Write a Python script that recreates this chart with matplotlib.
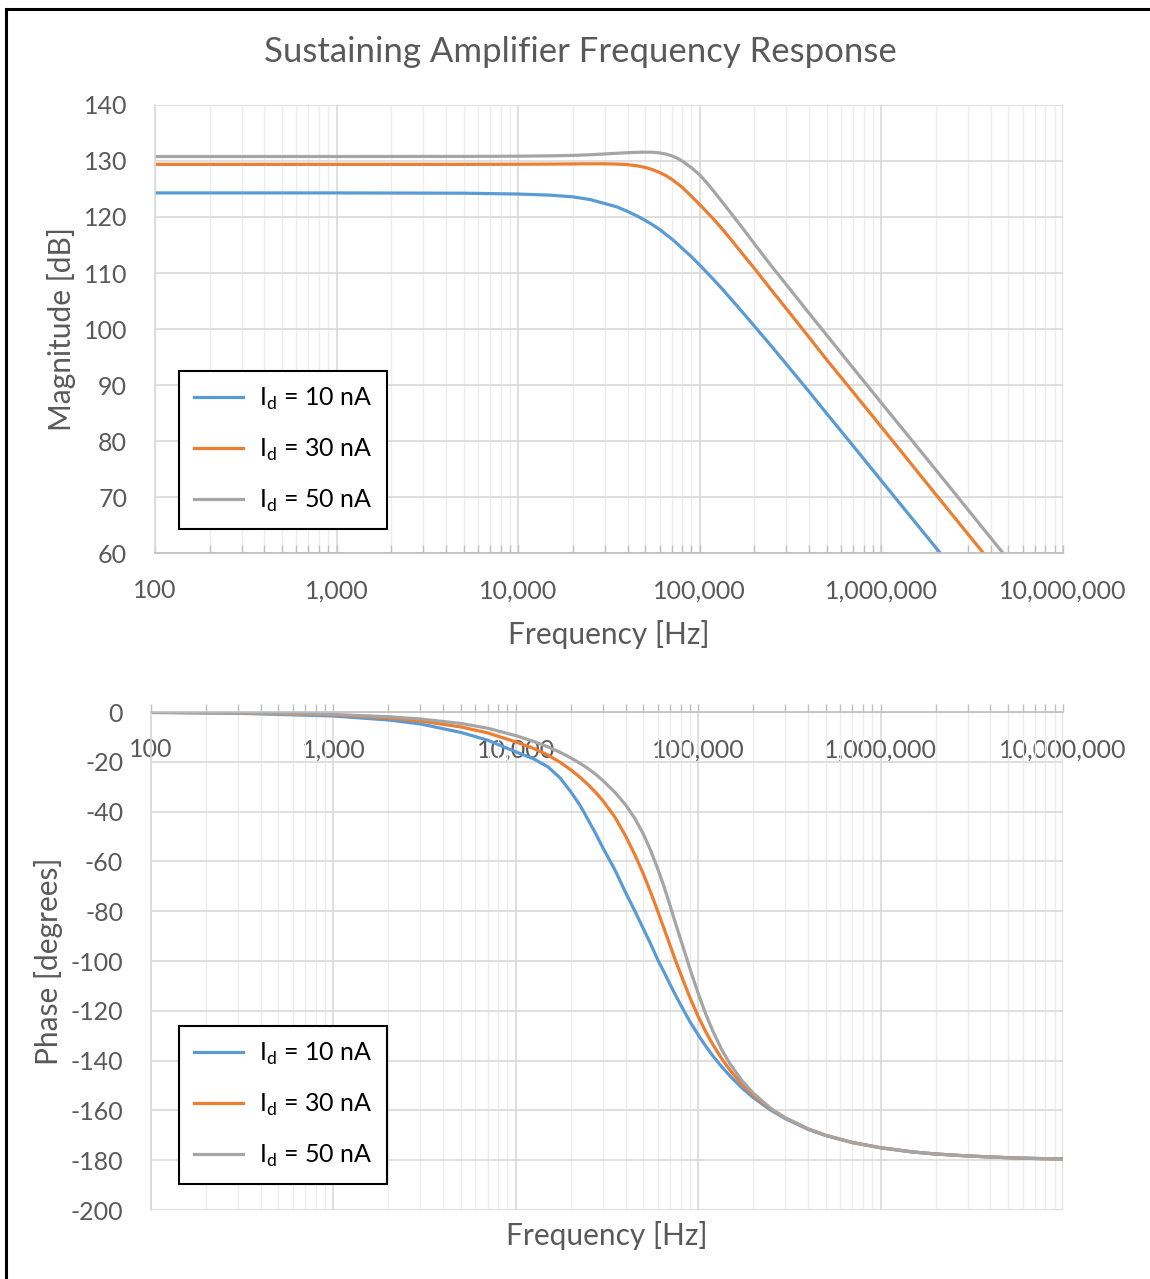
import numpy as np
import matplotlib
matplotlib.use("Agg")
import matplotlib.pyplot as plt
from matplotlib.ticker import FixedLocator, LogLocator, NullFormatter
from matplotlib.lines import Line2D

plt.rcParams["font.family"] = ["Lato", "DejaVu Sans"]
plt.rcParams["axes.unicode_minus"] = False

# ---- data ----
series_labels = [r"I$_\mathregular{d}$ = 10 nA", r"I$_\mathregular{d}$ = 30 nA", r"I$_\mathregular{d}$ = 50 nA"]

mag_freq = [100, 1000, 5000, 10000, 15000, 20000, 25000, 30000, 35000, 40000, 45000, 50000,
            55000, 60000, 65000, 70000, 75000, 80000, 90000, 100000, 110000, 120000, 135000,
            150000, 175000, 200000, 250000, 300000, 400000, 500000, 700000, 1000000,
            2000000, 5000000, 10000000]
mag_10nA = [124.3, 124.3, 124.25, 124.1, 123.9, 123.6, 123.1, 122.4, 121.8, 121.0, 120.2, 119.4,
            118.6, 117.8, 116.9, 116.1, 115.25, 114.4, 112.9, 111.4, 110.0, 108.7, 106.9,
            105.2, 102.7, 100.5, 96.8, 93.7, 88.8, 84.9, 79.1, 72.9,
            60.9, 45.0, 33.0]
mag_30nA = [129.4, 129.4, 129.4, 129.42, 129.45, 129.48, 129.5, 129.5, 129.45, 129.35, 129.15, 128.85,
            128.45, 127.95, 127.4, 126.75, 126.0, 125.3, 123.7, 122.2, 120.8, 119.5, 117.6,
            115.8, 113.1, 110.8, 106.8, 103.6, 98.5, 94.5, 88.7, 82.5,
            70.4, 54.5, 42.5]
mag_50nA = [130.8, 130.8, 130.82, 130.86, 130.92, 131.0, 131.12, 131.26, 131.38, 131.48, 131.55, 131.58,
            131.56, 131.45, 131.24, 130.92, 130.5, 130.0, 128.8, 127.5, 126.0, 124.5, 122.4,
            120.5, 117.7, 115.2, 111.1, 107.9, 102.8, 98.9, 93.0, 86.8,
            74.8, 58.8, 46.8]

ph_freq = [100, 300, 1000, 2000, 3000, 5000, 7000,
           10000, 12500, 15000, 17500, 20000, 22500, 25000, 27500, 30000,
           35000, 40000, 45000, 50000, 55000, 60000, 65000, 70000, 75000, 80000,
           90000, 100000, 110000, 120000, 135000, 150000, 175000, 200000,
           250000, 300000, 400000, 500000, 700000,
           1000000, 1500000, 2000000, 3000000, 5000000, 7000000, 10000000]
ph_10nA = [-0.2, -0.5, -1.6, -3.2, -4.8, -8.2, -11.3,
           -16.0, -18.8, -22.0, -26.5, -32.0, -37.5, -43.5, -49.0, -54.5,
           -63.5, -72.5, -80.0, -87.0, -93.3, -99.5, -104.5, -109.3, -113.6, -117.5,
           -124.3, -129.7, -134.2, -138.0, -142.6, -146.3, -151.2, -154.8,
           -159.9, -163.3, -167.6, -170.1, -172.9,
           -175.0, -176.7, -177.5, -178.3, -179.0, -179.3, -179.5]
ph_30nA = [-0.12, -0.35, -1.2, -2.4, -3.6, -6.0, -8.4,
           -12.0, -14.6, -17.3, -20.2, -23.2, -26.2, -29.3, -32.4, -35.6,
           -42.3, -49.8, -57.4, -65.0, -72.6, -80.0, -87.0, -93.6, -99.7, -105.1,
           -114.6, -122.3, -128.4, -133.4, -139.4, -144.0, -149.7, -153.9,
           -159.4, -163.0, -167.4, -170.0, -172.9,
           -175.0, -176.7, -177.5, -178.3, -179.0, -179.3, -179.5]
ph_50nA = [-0.1, -0.3, -1.0, -1.9, -2.8, -4.6, -6.5,
           -9.5, -11.8, -14.0, -16.2, -18.4, -20.6, -22.8, -25.1, -27.5,
           -32.3, -37.3, -42.8, -49.0, -55.8, -63.0, -70.2, -77.6, -84.7, -91.2,
           -103.0, -113.0, -121.3, -128.0, -135.8, -141.5, -148.3, -153.0,
           -159.2, -163.0, -167.4, -170.0, -172.9,
           -175.0, -176.7, -177.5, -178.3, -179.0, -179.3, -179.5]

freq_ticks = [1e2, 1e3, 1e4, 1e5, 1e6, 1e7]
freq_tick_labels = ["100", "1,000", "10,000", "100,000", "1,000,000", "10,000,000"]
mag_ticks = [60, 70, 80, 90, 100, 110, 120, 130, 140]
ph_ticks = [0, -20, -40, -60, -80, -100, -120, -140, -160, -180, -200]

colors = ["#5B9BD5", "#ED7D31", "#A5A5A5"]
TXT = "#595959"
GRID = "#D9D9D9"
MINOR = "#EDEDED"

W, H = 1150, 1279
fig = plt.figure(figsize=(W / 100, H / 100), dpi=100)


def rect(x0, y0, x1, y1):
    return [x0 / W, 1 - y1 / H, (x1 - x0) / W, (y1 - y0) / H]


def style_freq_axis(ax):
    ax.set_xscale("log")
    ax.set_xlim(1e2, 1e7)
    ax.xaxis.set_major_locator(FixedLocator(freq_ticks))
    ax.set_xticklabels(freq_tick_labels)
    ax.xaxis.set_minor_locator(LogLocator(base=10, subs=range(2, 10)))
    ax.xaxis.set_minor_formatter(NullFormatter())
    ax.tick_params(axis="x", which="both", direction="in", length=6, width=1,
                   color="#BFBFBF", labelcolor=TXT, labelsize=18, pad=19)
    ax.tick_params(axis="y", length=0, labelcolor=TXT, labelsize=18, pad=20)
    ax.grid(True, which="major", color=GRID, linewidth=1.2)
    ax.grid(True, which="minor", axis="x", color=MINOR, linewidth=1.0)
    ax.set_axisbelow(True)
    for s in ["top", "right"]:
        ax.spines[s].set_visible(False)
    ax.spines["left"].set_color(GRID)
    ax.spines["left"].set_linewidth(1.2)
    ax.spines["bottom"].set_color("#BFBFBF")
    ax.spines["bottom"].set_linewidth(1.2)


def add_legend(ax, x, y):
    leg = ax.legend(loc="upper left", bbox_to_anchor=(x, y), borderaxespad=0,
                    frameon=True, fancybox=False, fontsize=18, handlelength=1.95,
                    handletextpad=0.65, labelspacing=0.98, borderpad=0.6,
                    labelcolor="black")
    leg.get_frame().set_edgecolor("black")
    leg.get_frame().set_linewidth(1.5)
    leg.get_frame().set_alpha(1)


# ---- magnitude ----
ax1 = fig.add_axes(rect(155, 105, 1063, 553))
for vals, c, lab in zip([mag_10nA, mag_30nA, mag_50nA], colors, series_labels):
    ax1.plot(mag_freq, vals, color=c, linewidth=2.3, label=lab)
style_freq_axis(ax1)
ax1.set_ylim(60, 140)
ax1.set_yticks(mag_ticks)
ax1.set_yticklabels([str(v) for v in mag_ticks])
ax1.set_ylabel("Magnitude [dB]", fontsize=21.5, color=TXT, va="center")
ax1.yaxis.set_label_coords(-0.103, 0.5)
ax1.set_xlabel("Frequency [Hz]", fontsize=21.5, color=TXT, va="center")
ax1.xaxis.set_label_coords(0.5, -0.183)
add_legend(ax1, 0.0264, 0.406)

# ---- phase ----
ax2 = fig.add_axes(rect(151, 712, 1063, 1210))
for vals, c, lab in zip([ph_10nA, ph_30nA, ph_50nA], colors, series_labels):
    ax2.plot(ph_freq, vals, color=c, linewidth=2.3, label=lab)
style_freq_axis(ax2)
ax2.set_ylim(-200, 0)
ax2.set_yticks(ph_ticks)
ax2.set_yticklabels([str(v) for v in ph_ticks])
ax2.spines["bottom"].set_position(("data", 0))
ax2.set_ylabel("Phase [degrees]", fontsize=21.5, color=TXT, va="center")
ax2.yaxis.set_label_coords(-0.112, 0.5)
ax2.set_xlabel("Frequency [Hz]", fontsize=21.5, color=TXT, va="center")
ax2.xaxis.set_label_coords(0.5, -0.052)
add_legend(ax2, 0.0307, 0.3695)

fig.text(580 / W, 1 - 52 / H, "Sustaining Amplifier Frequency Response",
         ha="center", va="center", fontsize=25, color=TXT)

# chart frame (only left and top edges are visible in the screenshot)
fig.add_artist(Line2D([6 / W, 6 / W], [0, 1 - 9 / H], color="black", linewidth=2.2,
                      transform=fig.transFigure))
fig.add_artist(Line2D([6 / W, 1], [1 - 9 / H, 1 - 9 / H], color="black", linewidth=2.2,
                      transform=fig.transFigure))

fig.savefig("out.png", dpi=100)
